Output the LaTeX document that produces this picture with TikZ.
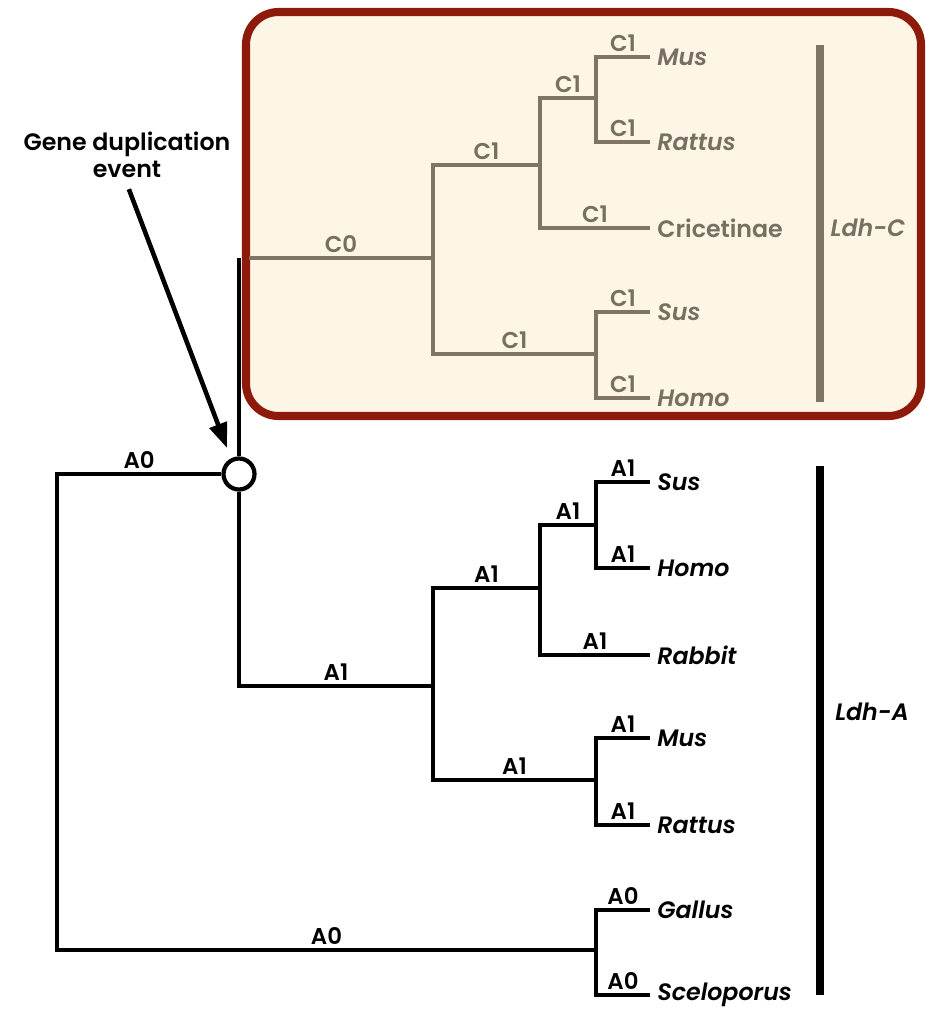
\documentclass[tikz,border=0pt]{standalone}
\usepackage{fontspec}
\setmainfont{Poppins}[BoldFont={Poppins SemiBold},BoldItalicFont={Poppins SemiBold Italic}]
\usetikzlibrary{arrows.meta,positioning}
\definecolor{ldhgray}{HTML}{7E7565}
\definecolor{ldhtext}{HTML}{777062}
\definecolor{boxred}{HTML}{8E1A0B}
\definecolor{boxfill}{HTML}{FDF5E6}
\tikzset{
  ag/.style={line width=2.8pt,line join=miter},
  cg/.style={ag,draw=ldhgray},
  lab/.style={above,inner sep=1.5pt,font=\fontsize{13}{13}\selectfont\bfseries},
  sp/.style={anchor=west,inner xsep=4pt,font=\fontsize{13.5}{14}\selectfont\bfseries\itshape},
  csp/.style={sp,text=ldhtext},
  bar/.style={line width=4.8pt},
  nyil/.style={-{Triangle[length=5mm,width=3.6mm]},line width=2.6pt},
}
\begin{document}
\begin{tikzpicture}[x=0.02cm,y=-0.02cm]
  \useasboundingbox (0,0) rectangle (926,1012);
  % Ldh-C box
  \draw[line width=4.6pt,draw=boxred,fill=boxfill,rounded corners=0.65cm]
    (246,12) rectangle (921,416);

  % inner points of the Ldh-C tree
  \coordinate (c0) at (249,258);
  \coordinate (cc) at (433,258);
  \coordinate (cA) at (540,165);
  \coordinate (cB) at (596,98);
  \coordinate (cD) at (596,354);
  \node[csp] (mus1) at (650,57) {Mus};
  \node[csp] (rat1) at (650,142) {Rattus};
  \node[csp,font=\fontsize{13.5}{14}\selectfont\bfseries] (cri) at (650,228) {Cricetinae};
  \node[csp] (sus1) at (650,312) {Sus};
  \node[csp] (hom1) at (650,398) {Homo};

  \begin{scope}[every node/.append style={text=ldhtext}]
  \draw[cg] (c0) -- node[lab]{C0} (cc);
  \draw[cg] (cA) -- node[lab]{C1} (cc |- cA) -- (cc |- cD) -- node[lab]{C1} (cD);
  \draw[cg] (cB) -- node[lab]{C1} (cA |- cB) -- (cA |- cri) -- node[lab]{C1} (cri.west);
  \draw[cg] (mus1.west) -- node[lab]{C1} (cB |- mus1) -- (cB |- rat1) -- node[lab]{C1} (rat1.west);
  \draw[cg] (sus1.west) -- node[lab]{C1} (cD |- sus1) -- (cD |- hom1) -- node[lab]{C1} (hom1.west);
  \end{scope}
  \draw[bar,ldhgray] (820,45) -- (820,402);
  \node[csp,anchor=center] (ldhc) at (868,228) {Ldh-C};

  % Ldh-A tree
  \coordinate (r) at (57,712);
  \node[circle,draw,line width=2.4pt,fill=white,minimum size=0.62cm,inner sep=0pt] (dup) at (239,474) {};
  \coordinate (aR) at (433,686);
  \coordinate (aS) at (540,588);
  \coordinate (aH) at (596,525);
  \coordinate (aM) at (596,780);
  \coordinate (aG) at (596,950);
  \node[sp] (sus2) at (650,482) {Sus};
  \node[sp] (hom2) at (650,568) {Homo};
  \node[sp] (rab) at (650,655) {Rabbit};
  \node[sp] (mus2) at (650,738) {Mus};
  \node[sp] (rat2) at (650,825) {Rattus};
  \node[sp] (gal) at (650,910) {Gallus};
  \node[sp] (sce) at (650,995) {Sceloporus};

  \draw[ag] (dup.north) -- (dup |- c0);
  \draw[ag] (dup.west) -- node[lab]{A0} (r |- dup) -- (r |- aG) -- node[lab]{A0} (aG);
  \draw[ag] (dup.south) -- (dup |- aR) -- node[lab]{A1} (aR);
  \draw[ag] (aS) -- node[lab]{A1} (aR |- aS) -- (aR |- aM) -- node[lab]{A1} (aM);
  \draw[ag] (aH) -- node[lab]{A1} (aS |- aH) -- (aS |- rab) -- node[lab]{A1} (rab.west);
  \draw[ag] (sus2.west) -- node[lab]{A1} (aH |- sus2) -- (aH |- hom2) -- node[lab]{A1} (hom2.west);
  \draw[ag] (mus2.west) -- node[lab]{A1} (aM |- mus2) -- (aM |- rat2) -- node[lab]{A1} (rat2.west);
  \draw[ag] (gal.west) -- node[lab]{A0} (aG |- gal) -- (aG |- sce) -- node[lab]{A0} (sce.west);
  \draw[bar] (820,466) -- (820,995);
  \node[sp,anchor=center] (ldha) at (872,712) {Ldh-A};

  % duplication marker
  \node[align=center,font=\fontsize{13.5}{15.5}\selectfont\bfseries] (gde) at (127,155)
    {Gene duplication\\event};
  \coordinate (tip) at (227,448);
  \draw[nyil,shorten <=3pt] (gde.south) -- (tip);
\end{tikzpicture}
\end{document}
